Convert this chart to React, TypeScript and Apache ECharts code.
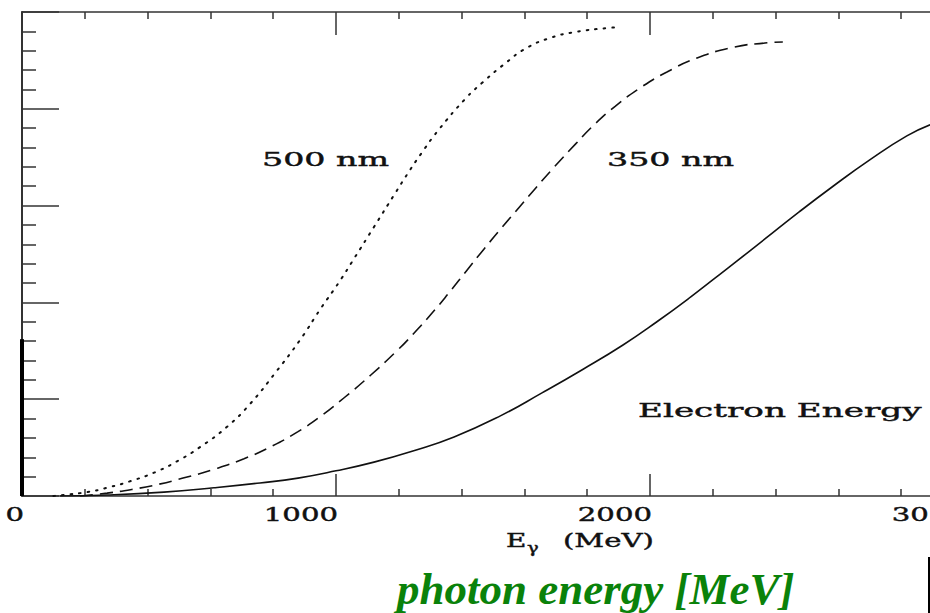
import React, { useEffect, useRef } from "react";
import * as echarts from "echarts";

const xTickValues = [0, 1000, 2000, 3000];
const xTickLabels = ["0", "1000", "2000", "3000"];

// 500 nm (dotted)
const dotted500: number[][] = [
  [100, 0], [131, 0.002], [207, 0.008], [271, 0.017], [347, 0.031], [427, 0.05],
  [500, 0.074], [567, 0.101], [653, 0.143], [726, 0.19], [806, 0.254], [885, 0.322],
  [952, 0.388], [1010, 0.442], [1057, 0.49], [1121, 0.556], [1185, 0.622],
  [1229, 0.667], [1274, 0.71], [1325, 0.755], [1411, 0.82], [1468, 0.855],
  [1541, 0.895], [1605, 0.925], [1685, 0.947], [1764, 0.959], [1866, 0.967], [1890, 0.968],
];

// 350 nm (dashed)
const dashed350: number[][] = [
  [185, 0], [271, 0.006], [354, 0.014], [427, 0.023], [513, 0.037], [611, 0.055],
  [707, 0.077], [793, 0.102], [879, 0.133], [952, 0.165], [1026, 0.203], [1111, 0.25],
  [1194, 0.3], [1245, 0.334], [1306, 0.378], [1360, 0.42], [1414, 0.464], [1471, 0.51],
  [1526, 0.553], [1583, 0.596], [1637, 0.637], [1694, 0.679], [1764, 0.728], [1822, 0.767],
  [1889, 0.805], [1968, 0.843], [2054, 0.876], [2150, 0.905], [2265, 0.927], [2366, 0.936],
  [2423, 0.938],
];

// Electron energy (solid)
const electron: number[][] = [
  [121, 0], [271, 0.002], [452, 0.008], [611, 0.017], [758, 0.027], [879, 0.037],
  [1000, 0.052], [1121, 0.07], [1245, 0.093], [1376, 0.122], [1525, 0.166], [1656, 0.213],
  [1787, 0.262], [1914, 0.312], [2022, 0.36], [2131, 0.412], [2248, 0.471], [2366, 0.531],
  [2475, 0.587], [2583, 0.64], [2701, 0.695], [2818, 0.744], [2892, 0.767],
];

// thick segment drawn over the left axis in the original
const thickAxisSegment: number[][] = [[0, 0], [0, 0.324]];

const INK = "#111";
const FACE = "DejaVu Serif";

export default function App() {
  const ref = useRef<HTMLDivElement>(null);

  useEffect(() => {
    if (!ref.current) return;
    const chart = echarts.init(ref.current, null, { renderer: "svg" });

    const xAxisBase = {
      type: "value",
      min: 0,
      max: 3000,
      interval: 1000,
      axisLine: { show: true, onZero: false, lineStyle: { color: "#333", width: 1.5 } },
      minorTick: { show: true, splitNumber: 5, length: 7, lineStyle: { color: "#333", width: 1.5 } },
      axisLabel: { show: false },
      splitLine: { show: false },
      minorSplitLine: { show: false },
    };

    const option: any = {
      animation: false,
      backgroundColor: "#fff",
      grid: {
        left: 22,
        top: 12,
        width: 942,
        height: 484,
        containLabel: false,
        outerBoundsMode: "none",
      },
      xAxis: [
        {
          ...xAxisBase,
          position: "bottom",
          axisTick: { show: true, inside: true, length: 22, lineStyle: { color: "#333", width: 1.5 } },
        },
        {
          ...xAxisBase,
          position: "top",
          axisTick: { show: true, inside: true, length: 23, lineStyle: { color: "#333", width: 1.5 } },
        },
      ],
      yAxis: {
        type: "value",
        min: 0,
        max: 1,
        interval: 0.2,
        axisLine: { show: true, onZero: false, lineStyle: { color: "#333", width: 2 } },
        axisTick: { show: true, inside: true, length: 37, lineStyle: { color: "#333", width: 1.5 } },
        minorTick: { show: true, splitNumber: 5, length: 14, lineStyle: { color: "#333", width: 1.5 } },
        axisLabel: { show: false },
        splitLine: { show: false },
      },
      series: [
        {
          type: "line",
          name: "500 nm",
          data: dotted500,
          smooth: true,
          symbol: "none",
          lineStyle: { color: INK, width: 2, type: [1.6, 7], cap: "round" },
        },
        {
          type: "line",
          name: "350 nm",
          data: dashed350,
          smooth: true,
          symbol: "none",
          lineStyle: { color: INK, width: 1.6, type: [13, 7] },
        },
        {
          type: "line",
          name: "Electron Energy",
          data: electron,
          smooth: true,
          symbol: "none",
          lineStyle: { color: INK, width: 1.6 },
        },
        {
          type: "line",
          data: thickAxisSegment,
          symbol: "none",
          clip: false,
          lineStyle: { color: "#000", width: 4 },
          z: 5,
        },
      ],
    };
    chart.setOption(option);

    const serifStyle = (text: string, align: string, size = 18) => ({
      text,
      align,
      verticalAlign: "middle",
      fontFamily: FACE,
      fontWeight: "normal",
      fontSize: size,
      fill: INK,
      stroke: INK,
      lineWidth: 0.4,
    });

    const tickLabelGraphics = xTickValues.map((v, i) => {
      const p = chart.convertToPixel({ gridIndex: 0 }, [v, 0]) as number[];
      return {
        type: "text",
        x: p[0] + 2,
        y: p[1] + 19,
        scaleX: 1.62,
        style: serifStyle(xTickLabels[i], "right"),
      };
    });

    chart.setOption({
      graphic: [
        ...tickLabelGraphics,
        { type: "text", x: 262, y: 160, scaleX: 1.85, style: serifStyle("500 nm", "left") },
        { type: "text", x: 607, y: 160, scaleX: 1.85, style: serifStyle("350 nm", "left") },
        { type: "text", x: 638, y: 411, scaleX: 1.9, style: serifStyle("Electron Energy", "left") },
        { type: "text", x: 506, y: 541, scaleX: 1.55, style: serifStyle("E", "left") },
        { type: "text", x: 527, y: 548, scaleX: 1.4, style: serifStyle("γ", "left", 14) },
        { type: "text", x: 563, y: 541, scaleX: 1.62, style: serifStyle("(MeV)", "left") },
        {
          type: "text",
          x: 397,
          y: 589,
          style: {
            text: "photon energy [MeV]",
            align: "left",
            verticalAlign: "middle",
            fontFamily: "Liberation Serif",
            fontStyle: "italic",
            fontWeight: "bold",
            fontSize: 45,
            fill: "#0a820a",
          },
        },
        {
          type: "line",
          shape: { x1: 929, y1: 557, x2: 929, y2: 613 },
          style: { stroke: "#000", lineWidth: 2 },
        },
      ],
    });

    return () => chart.dispose();
  }, []);

  return (
    <div
      ref={ref}
      style={{ position: "fixed", left: 0, top: 0, width: 930, height: 613, background: "#fff" }}
    />
  );
}
